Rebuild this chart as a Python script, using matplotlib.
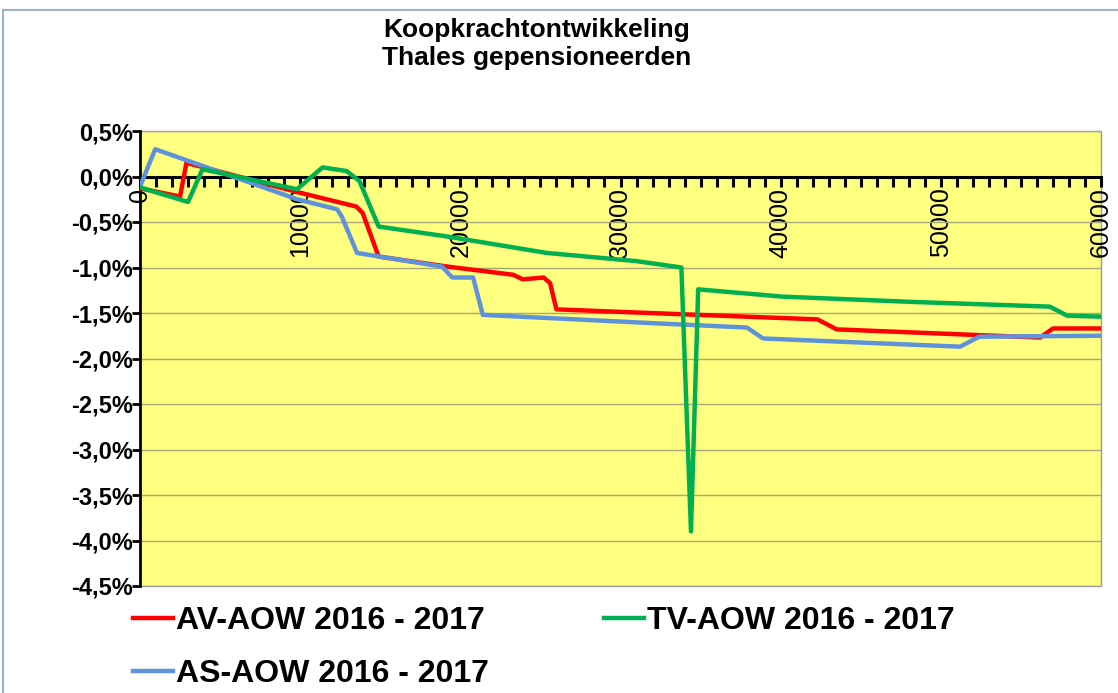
import matplotlib
matplotlib.use("Agg")
import matplotlib.pyplot as plt
from matplotlib.ticker import MultipleLocator, FuncFormatter
from matplotlib.lines import Line2D

plt.rcParams['font.family'] = ['Liberation Sans', 'DejaVu Sans']

# Data (income in euro, purchasing power change in %)
av_income = [0, 2500, 2900, 9800, 13500, 13900, 14900, 19200, 23300, 23900,
             25200, 25600, 26000, 31800, 42300, 43500, 56200, 57000, 60000]
av_change = [-0.13, -0.22, 0.15, -0.17, -0.33, -0.40, -0.88, -0.99, -1.08, -1.13,
             -1.11, -1.17, -1.46, -1.50, -1.57, -1.68, -1.77, -1.67, -1.67]

tv_income = [0, 3000, 3900, 9800, 11400, 12900, 13700, 14900, 19200, 25400,
             31000, 33800, 34400, 34850, 40100, 48500, 56800, 57900, 60000]
tv_change = [-0.12, -0.28, 0.08, -0.14, 0.10, 0.06, -0.05, -0.55, -0.66, -0.84,
             -0.93, -1.00, -3.90, -1.24, -1.32, -1.38, -1.43, -1.53, -1.54]

as_income = [0, 950, 9800, 12300, 12600, 13550, 18850, 19500, 20800, 21400,
             31800, 37900, 38900, 51200, 52400, 60000]
as_change = [-0.11, 0.30, -0.25, -0.36, -0.44, -0.84, -0.99, -1.11, -1.11, -1.52,
             -1.61, -1.66, -1.78, -1.87, -1.76, -1.75]

labels = ["AV-AOW 2016 - 2017", "TV-AOW 2016 - 2017", "AS-AOW 2016 - 2017"]
colors = ["#FF0000", "#00B050", "#5E93DB"]

W, H = 1118, 693
fig = plt.figure(figsize=(W / 100, H / 100), dpi=100)
fig.patch.set_facecolor("white")

# plot area in pixel coordinates of the reference
left, right, top, bottom = 140, 1101, 131, 586
ax = fig.add_axes([left / W, 1 - bottom / H, (right - left) / W, (bottom - top) / H])
ax.set_facecolor("#FFFF80")
ax.patch.set_edgecolor("#9a9a9a")
ax.patch.set_linewidth(1)

line_av, = ax.plot(av_income, av_change, color=colors[0], lw=3.2, zorder=3,
                   solid_joinstyle="round", label=labels[0])
line_as, = ax.plot(as_income, as_change, color=colors[2], lw=3.2, zorder=4,
                   solid_joinstyle="round", label=labels[2])
line_tv, = ax.plot(tv_income, tv_change, color=colors[1], lw=3.2, zorder=5,
                   solid_joinstyle="round", label=labels[1])

ax.set_xlim(0, 60000)
ax.set_ylim(-4.5, 0.5)

# x axis crosses at 0 %
ax.spines['bottom'].set_position(('data', 0))
ax.spines['bottom'].set_linewidth(2.2)
ax.spines['bottom'].set_zorder(2.5)
ax.spines['left'].set_linewidth(2)
ax.spines['top'].set_visible(False)
ax.spines['right'].set_visible(False)

ax.xaxis.set_major_locator(MultipleLocator(10000))
ax.xaxis.set_minor_locator(MultipleLocator(1000))
ax.tick_params(axis='x', which='both', direction='out', length=7, width=2.2, color='black')
ax.tick_params(axis='x', which='major', labelsize=18, labelrotation=90, pad=1)
ax.xaxis.set_major_formatter(FuncFormatter(lambda v, p: "%d" % v))

ax.yaxis.set_major_locator(MultipleLocator(0.5))
ax.yaxis.set_major_formatter(FuncFormatter(lambda v, p: ("%.1f%%" % v).replace(".", ",")))
ax.tick_params(axis='y', direction='out', length=6, width=2, pad=-1)
for t in ax.get_yticklabels():
    t.set_fontsize(17)
    t.set_fontweight('bold')

ax.grid(axis='y', color='#a8a878', lw=1)
ax.set_axisbelow(True)

# title
fig.text(537 / W, 1 - 44 / H, "Koopkrachtontwikkeling\nThales gepensioneerden",
         ha='center', va='center', fontsize=19, fontweight='bold', linespacing=1.2)

# legend at the bottom, row major: AV, TV / AS
fig.legend(handles=[line_av, line_as, line_tv], ncol=2, loc='upper left',
           bbox_to_anchor=(133 / W, 1 - 606 / H), frameon=False,
           prop={'size': 23, 'weight': 'bold'}, handlelength=1.25,
           handletextpad=0.1, columnspacing=3.6, labelspacing=0.72,
           borderpad=0, borderaxespad=0)

# light border of the chart area
fig.add_artist(Line2D([3 / W, 3 / W], [0, 1 - 10 / H], color='#9db3c8', lw=1.5))
fig.add_artist(Line2D([3 / W, 1], [1 - 10 / H, 1 - 10 / H], color='#9db3c8', lw=1.5))

fig.savefig("out.png", dpi=100)
